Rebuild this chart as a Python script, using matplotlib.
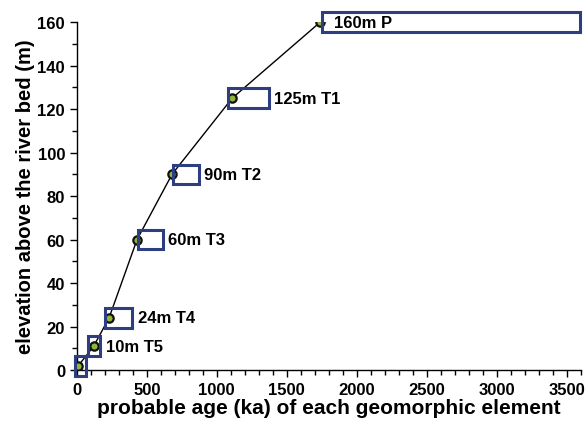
import numpy as np
import matplotlib
matplotlib.use('Agg')
import matplotlib.pyplot as plt
from matplotlib.patches import Rectangle
from matplotlib.ticker import MultipleLocator

# probable age (ka) and elevation (m) of each element
ages = [10, 120, 230, 430, 680, 1110, 1740]
elevations = [2, 11, 24, 60, 90, 125, 160]
# age range drawn as a box
box_start = [-12, 80, 200, 435, 685, 1080, 1755]
box_end = [62, 165, 395, 615, 870, 1370, 3595]
labels = ['', '10m T5', '24m T4', '60m T3', '90m T2', '125m T1', '160m P']

plt.rcParams['font.family'] = ['Liberation Sans', 'DejaVu Sans']
plt.rcParams['font.weight'] = 'bold'

fig = plt.figure(figsize=(5.87, 4.27), dpi=100)
ax = fig.add_axes([0.131, 0.131, 0.858, 0.815])

ax.plot(ages, elevations, color='black', lw=1.0, zorder=2)
ax.plot(ages, elevations, 'o', ms=6, mfc='#8fb53a', mec='#111111', mew=1.6, zorder=3)

box_h = 9
for x0, x1, y, lab in zip(box_start, box_end, elevations, labels):
    r = Rectangle((x0, y - box_h / 2), x1 - x0, box_h, fill=False,
                  ec='#2d3f80', lw=2.2, clip_on=False, zorder=4)
    ax.add_patch(r)
    if lab == '160m P':
        ax.annotate(lab, (x0, y), xytext=(8, 0), textcoords='offset points',
                    va='center', ha='left', fontsize=12, fontweight='bold')
    elif lab:
        ax.annotate(lab, (x1, y), xytext=(4, 0), textcoords='offset points',
                    va='center', ha='left', fontsize=12, fontweight='bold')

ax.set_xlim(0, 3600)
ax.set_ylim(0, 160)
ax.xaxis.set_major_locator(MultipleLocator(500))
ax.xaxis.set_minor_locator(MultipleLocator(100))
ax.yaxis.set_major_locator(MultipleLocator(20))
ax.yaxis.set_minor_locator(MultipleLocator(10))
ax.tick_params(which='major', length=5, width=1, labelsize=12)
ax.tick_params(which='minor', length=3.5, width=1)
for s in ['top', 'right']:
    ax.spines[s].set_visible(False)
for s in ['left', 'bottom']:
    ax.spines[s].set_linewidth(1)

ax.set_xlabel('probable age (ka) of each geomorphic element', fontsize=15,
              fontweight='bold', labelpad=1)
ax.set_ylabel('elevation above the river bed (m)', fontsize=14.5,
              fontweight='bold', labelpad=2)

fig.savefig('out.png', dpi=100)
